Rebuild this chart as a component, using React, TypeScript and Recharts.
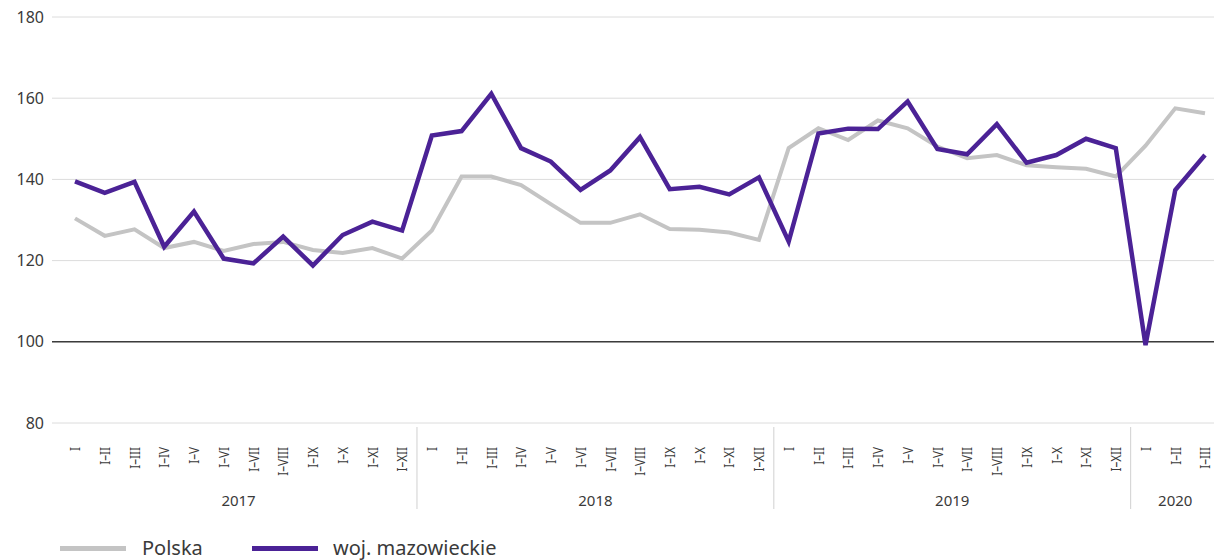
import { CartesianGrid, Line, LineChart, ReferenceLine, XAxis, YAxis } from "recharts";

const months = ["I", "I–II", "I–III", "I–IV", "I–V", "I–VI", "I–VII", "I–VIII", "I–IX", "I–X", "I–XI", "I–XII"];
const years = ["2017", "2018", "2019", "2020"];
const monthsPerYear = [12, 12, 12, 3];

const polska = [
  130.4, 126.1, 127.7, 123.1, 124.6, 122.4, 124.1, 124.6, 122.6, 121.9, 123.1, 120.5,
  127.4, 140.7, 140.7, 138.6, 133.9, 129.3, 129.3, 131.4, 127.8, 127.6, 126.9, 125.1,
  147.7, 152.6, 149.7, 154.5, 152.6, 148.1, 145.2, 146.0, 143.5, 143.0, 142.6, 140.7,
  148.3, 157.5, 156.3,
];

const mazowieckie = [
  139.5, 136.7, 139.4, 123.4, 132.1, 120.5, 119.3, 125.9, 118.8, 126.3, 129.6, 127.4,
  150.8, 151.9, 161.1, 147.7, 144.4, 137.4, 142.2, 150.4, 137.6, 138.2, 136.3, 140.5,
  124.7, 151.3, 152.5, 152.4, 159.2, 147.5, 146.2, 153.6, 144.1, 146.0, 150.0, 147.7,
  99.2, 137.4, 146.0,
];

const yTicks = [80, 100, 120, 140, 160, 180];

type Row = { key: string; month: string; year: string; yearStart: number; yearLen: number; polska: number; mazowieckie: number };

const rows: Row[] = [];
let idx = 0;
years.forEach((year, yi) => {
  const start = idx;
  for (let m = 0; m < monthsPerYear[yi]; m++) {
    rows.push({
      key: `${year}-${m}`,
      month: months[m],
      year,
      yearStart: start,
      yearLen: monthsPerYear[yi],
      polska: polska[idx],
      mazowieckie: mazowieckie[idx],
    });
    idx++;
  }
});

const CHART_W = 1214;
const CHART_H = 560;
const Y_W = 52;
const PAD_L = 23;
const PAD_R = 9;
// line charts use a point scale, so the gap is spread over n - 1 steps
const STEP = (CHART_W - Y_W - PAD_L - PAD_R) / (rows.length - 1);
const FONT = "'Noto Sans', 'Open Sans', sans-serif";
const TEXT = "#3a3a3a";

function MonthTick(props: any) {
  const { x, y, payload } = props;
  const i = payload.index;
  const row = rows[i];
  const axisTop = y - 4;
  const ly = axisTop + 20;
  const mid = Math.floor((row.yearLen - 1) / 2);
  const midOffset = ((row.yearLen - 1) / 2 - mid) * STEP;
  return (
    <g>
      {/* rotated and squeezed a bit, the source font is a condensed one */}
      <text
        transform={`translate(${x}, ${ly}) rotate(-90) scale(0.78, 1)`}
        textAnchor="end"
        dy="0.35em"
        fontSize={15}
        fill={TEXT}
        fontFamily={FONT}
      >
        {row.month}
      </text>
      {i === row.yearStart && i > 0 && (
        <line x1={x - STEP / 2} x2={x - STEP / 2} y1={axisTop} y2={axisTop + 82} stroke="#d0d0d0" strokeWidth={1} />
      )}
      {i === row.yearStart + mid && (
        <text x={x + midOffset} y={axisTop + 79} textAnchor="middle" fontSize={15} fill={TEXT} fontFamily={FONT}>
          {row.year}
        </text>
      )}
    </g>
  );
}

export default function App() {
  return (
    <div style={{ position: "fixed", left: 0, top: 0, width: 1214, height: 560, overflow: "hidden", background: "#fff" }}>
      <LineChart width={CHART_W} height={CHART_H} data={rows} margin={{ top: 17, right: 0, left: 0, bottom: 0 }}>
        <CartesianGrid vertical={false} stroke="#dcdcdc" />
        <XAxis
          dataKey="key"
          interval={0}
          height={137}
          axisLine={false}
          tickLine={false}
          padding={{ left: PAD_L, right: PAD_R }}
          tick={<MonthTick />}
        />
        <YAxis
          width={Y_W}
          domain={[80, 180]}
          ticks={yTicks}
          axisLine={false}
          tickLine={false}
          tick={{ fontSize: 16, fill: TEXT, fontFamily: FONT }}
        />
        <ReferenceLine y={100} stroke="#3c3c3c" strokeWidth={1.5} />
        <Line dataKey="polska" stroke="#c4c4c4" strokeWidth={4} dot={false} isAnimationActive={false} />
        <Line dataKey="mazowieckie" stroke="#4b2296" strokeWidth={4.5} dot={false} isAnimationActive={false} />
      </LineChart>
      <div style={{ position: "absolute", top: 534, left: 60, display: "flex", alignItems: "center", fontFamily: FONT, fontSize: 20, color: TEXT, lineHeight: "28px" }}>
        <span style={{ display: "inline-block", width: 66, height: 5, background: "#c4c4c4", marginRight: 16 }} />
        <span style={{ width: 110 }}>Polska</span>
        <span style={{ display: "inline-block", width: 66, height: 5, background: "#4b2296", marginRight: 15 }} />
        <span>woj. mazowieckie</span>
      </div>
    </div>
  );
}
